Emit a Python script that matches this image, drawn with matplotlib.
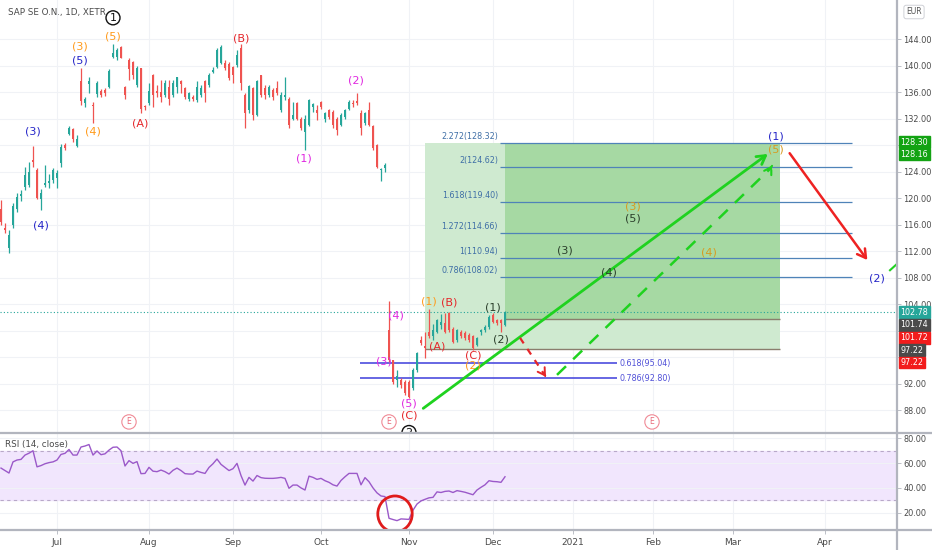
import matplotlib
matplotlib.use('Agg')
import matplotlib.pyplot as plt
from matplotlib.patches import Rectangle, Ellipse
from matplotlib.lines import Line2D
import numpy as np

# SAP SE daily candles, bar index 0 = first session of July 2020
first_bar = -14
opens = [118.4, 115.5, 112.4, 115.9, 118.4, 120.3, 121.7, 122.0, 125.8, 124.2,
         119.8, 122.0, 122.3, 122.7, 123.0, 125.3, 128.0, 129.6, 130.4, 127.8,
         137.6, 134.4, 137.2, 134.1, 135.7, 136.2, 136.3, 136.8, 141.3, 141.3,
         142.8, 136.7, 140.9, 140.6, 137.1, 139.6, 133.9, 134.4, 138.5, 136.2,
         136.0, 135.5, 136.8, 135.5, 136.8, 137.6, 136.6, 135.0, 135.3, 134.8,
         135.5, 137.6, 137.1, 139.0, 139.8, 140.4, 140.4, 140.3, 139.8, 140.1,
         142.6, 135.5, 133.3, 136.6, 132.5, 138.5, 136.6, 135.5, 136.3, 136.6,
         133.3, 135.3, 135.0, 132.0, 134.3, 132.0, 129.9, 131.0, 133.7, 133.3,
         134.5, 131.9, 133.3, 133.0, 132.0, 131.0, 132.2, 133.5, 134.4, 134.6,
         132.8, 131.3, 133.3, 130.8, 128.0, 124.2, 124.5, 100.1, 95.5, 92.6,
         92.5, 92.3, 92.3, 91.3, 94.0, 98.6, 97.6, 99.8, 99.1, 99.8,
         100.8, 101.1, 102.6, 100.3, 98.6, 99.8, 99.7, 99.3, 99.1, 97.8,
         99.8, 100.1, 100.6, 102.3, 101.6, 101.6, 100.8]
highs = [119.7, 116.2, 115.2, 119.2, 120.7, 121.2, 124.7, 125.5, 127.8, 124.5,
         121.3, 125.0, 123.7, 124.5, 124.2, 128.2, 128.3, 130.8, 130.5, 129.5,
         139.7, 135.3, 138.2, 134.5, 137.6, 136.4, 136.6, 139.4, 143.2, 142.6,
         142.9, 136.9, 141.1, 140.7, 140.0, 139.7, 134.0, 137.3, 138.7, 137.0,
         137.8, 137.8, 137.8, 137.8, 138.3, 137.8, 136.8, 136.0, 135.6, 137.6,
         137.0, 137.8, 138.8, 139.8, 142.6, 143.1, 140.8, 140.6, 139.9, 142.3,
         143.3, 135.8, 137.1, 136.8, 137.8, 138.6, 137.0, 137.1, 136.6, 137.6,
         136.0, 138.2, 135.3, 134.5, 134.5, 132.3, 132.5, 135.0, 134.4, 134.0,
         134.7, 133.0, 133.5, 133.3, 132.3, 132.8, 133.4, 134.8, 134.8, 135.8,
         133.3, 133.0, 134.5, 131.0, 128.2, 124.5, 125.3, 104.5, 95.6, 94.0,
         92.8, 92.6, 92.5, 94.3, 96.8, 99.1, 99.8, 103.3, 101.0, 101.8,
         102.5, 102.6, 102.8, 100.6, 100.3, 100.1, 100.0, 99.6, 99.3, 99.0,
         100.3, 100.8, 102.3, 102.6, 101.8, 101.8, 102.9]
lows = [116.0, 114.7, 111.65, 115.4, 117.9, 119.5, 121.2, 121.7, 124.7, 119.8,
        118.2, 121.7, 121.5, 122.2, 121.5, 124.7, 127.3, 129.5, 128.5, 127.7,
        134.0, 133.7, 135.8, 131.3, 135.3, 135.3, 135.4, 136.6, 141.2, 140.9,
        141.1, 134.9, 137.8, 137.9, 136.8, 132.8, 133.3, 134.0, 133.8, 135.3,
        134.5, 135.3, 134.0, 135.3, 135.8, 135.8, 135.0, 134.7, 134.6, 134.5,
        135.3, 134.5, 136.8, 138.8, 139.6, 140.3, 139.3, 137.8, 137.3, 139.8,
        136.3, 130.5, 132.8, 131.8, 132.4, 135.3, 135.0, 135.3, 134.8, 135.5,
        133.0, 134.8, 130.5, 131.8, 131.8, 130.3, 127.2, 130.8, 133.0, 131.8,
        133.5, 131.5, 132.0, 130.5, 129.5, 130.8, 132.0, 133.3, 133.8, 134.0,
        129.5, 131.0, 130.8, 127.2, 124.6, 122.5, 124.0, 95.3, 92.0, 91.5,
        91.3, 90.3, 89.8, 91.0, 93.8, 97.8, 95.8, 98.8, 98.6, 99.6,
        100.3, 99.6, 99.8, 98.1, 98.3, 98.8, 98.5, 98.3, 97.1, 97.6,
        99.3, 99.8, 100.3, 101.1, 100.8, 99.8, 100.7]
closes = [116.4, 115.2, 114.4, 118.8, 120.2, 120.6, 123.5, 124.0, 125.5, 120.0,
          120.8, 122.2, 122.5, 124.2, 123.8, 127.75, 127.5, 130.6, 128.9, 128.9,
          134.7, 135.0, 137.6, 133.9, 137.3, 135.5, 135.8, 139.2, 141.9, 142.3,
          141.2, 135.5, 139.4, 138.6, 139.7, 133.5, 133.7, 136.2, 135.5, 135.8,
          135.3, 137.3, 135.0, 137.3, 138.2, 137.2, 135.3, 135.8, 135.0, 136.8,
          136.6, 135.8, 138.6, 139.3, 142.3, 142.8, 139.7, 138.1, 138.6, 141.6,
          137.3, 132.8, 136.9, 132.5, 137.6, 135.5, 135.5, 136.8, 135.3, 135.8,
          135.5, 135.5, 131.0, 132.5, 132.0, 130.5, 132.0, 134.8, 134.2, 132.9,
          133.7, 132.8, 132.3, 131.0, 130.3, 132.5, 133.3, 134.5, 134.2, 134.3,
          130.5, 132.9, 131.0, 127.5, 124.7, 124.4, 125.0, 95.5, 92.3, 93.1,
          91.8, 90.5, 90.0, 94.0, 96.6, 98.1, 97.3, 99.1, 100.1, 101.6,
          101.3, 99.8, 100.1, 98.3, 100.1, 99.1, 98.8, 98.6, 97.3, 98.8,
          100.1, 100.6, 102.1, 101.3, 101.1, 101.2, 102.78]
rsi = [56, 54, 52, 61, 62.5, 63, 66.5, 68, 70, 57, 58, 59.5, 60.4, 61,
       62.5, 67, 67.9, 71, 66.5, 66.5, 73, 73.8, 75, 66.5,
       69.8, 66.8, 67.5, 70.5, 72.8, 73, 70, 57.7, 62, 59.8,
       61.2, 51.5, 51.7, 56.6, 53.5, 53.1, 54.4, 53.1, 51.2, 54.2,
       56, 54, 51.5, 51.2, 51.2, 53.6, 52.5, 51.7, 56.5, 59.5,
       63.3, 59, 56.5, 54, 55.5, 59.8, 50, 42.3, 48.5, 45.5,
       50, 48.3, 47.8, 47.7, 47.7, 48, 48.5, 47.7, 39.7, 42.3,
       42.3, 40, 38.3, 49.5, 48.5, 46.9, 47.7, 45.8, 44.5, 42.5,
       41.5, 46, 49, 51.7, 51.7, 51.7, 42.5, 48.3, 45, 40,
       36, 33.5, 33, 15.5, 14.5, 13.6, 15, 14.8, 14.6, 22,
       27, 29.5, 30.8, 32, 32.4, 36.8, 36.3, 37.2, 37.5, 36.3,
       37.8, 37.2, 36.5, 35.5, 34.5, 38.3, 40.5, 42.5, 45.8, 45.2,
       45, 44.5, 49]

month_bars = [0, 23, 44, 66, 88, 109, 129, 149, 169, 192]
month_labels = ['Jul', 'Aug', 'Sep', 'Oct', 'Nov', 'Dec', '2021', 'Feb', 'Mar', 'Apr']
price_ticks = list(range(88, 145, 4))
hidden_ticks = [128, 100, 96]   # covered by the price tags

# fibonacci extension / retracement levels
ext_ratios = ['2.272', '2', '1.618', '1.272', '1', '0.786']
ext_levels = [128.32, 124.62, 119.40, 114.66, 110.94, 108.02]
ret_ratios = ['0.618', '0.786']
ret_levels = [95.04, 92.80]

# target box (long position): entry, stop, target
box_target = 128.32
box_entry = 101.74
box_stop = 97.22

# elliott wave labels: text, bar, price, colour
BLUE, ORANGE, RED, MAG, DKG, GOLD = '#2525c8', '#ff9a1a', '#e5262a', '#e028e0', '#2b3f2b', '#d79b21'
waves = [
    ('(5)', 14, 144.45, ORANGE), ('(3)', 5.75, 142.8, ORANGE), ('(5)', 5.75, 140.7, BLUE),
    ('(3)', -6, 130.0, BLUE), ('(4)', -4, 115.9, BLUE), ('(4)', 9, 130.1, ORANGE),
    ('(A)', 20.75, 131.3, RED), ('(B)', 46, 144.15, RED), ('(2)', 74.75, 137.7, MAG),
    ('(1)', 61.75, 125.9, MAG), ('(4)', 84.75, 102.3, MAG), ('(3)', 81.75, 95.25, MAG),
    ('(5)', 88, 89.0, MAG), ('(C)', 88, 87.2, RED), ('(1)', 93, 104.45, ORANGE),
    ('(B)', 98, 104.3, RED), ('(A)', 95, 97.65, RED), ('(C)', 104, 96.3, RED),
    ('(2)', 104, 94.65, ORANGE), ('(1)', 109, 103.4, DKG), ('(2)', 111, 98.7, DKG),
    ('(3)', 127, 112.15, DKG), ('(4)', 138, 108.8, DKG), ('(3)', 144, 118.7, GOLD),
    ('(5)', 144, 116.9, DKG), ('(4)', 163, 111.85, GOLD), ('(1)', 179.75, 129.35, BLUE),
    ('(5)', 179.75, 127.25, GOLD), ('(2)', 205, 107.9, BLUE),
]
circled = [('1', 14, 147.2), ('2', 88, 84.6)]
earnings_bars = [18, 83, 148.75]

# price tags on the scale: value, text, colour, vertical shift (pt)
tags = [(128.30, '128.30', '#13a313', 0.5), (128.16, '128.16', '#13a313', -7.6),
        (102.78, '102.78', '#26a69a', 0), (101.74, '101.74', '#4a4a4a', -4.2),
        (101.72, '101.72', '#f21c1c', -13.5), (97.22, '97.22', '#4a4a4a', -1.0),
        (97.22, '97.22', '#f21c1c', -9.8)]

UP, DOWN = '#26a69a', '#ef5350'
GRID = '#f0f2f6'
AXC = '#b2b5be'
TXT = '#4a4a4a'

plt.rcParams['font.family'] = ['DejaVu Sans']

fig = plt.figure(figsize=(9.32, 5.5), dpi=100)
W, H = 932, 550
ax = fig.add_axes([0, 117 / H, 897 / W, 433 / H])
rax = fig.add_axes([0, 20 / H, 897 / W, 97 / H], sharex=ax)

bars = np.arange(first_bar, first_bar + len(closes))
o, h, l, c = map(np.array, (opens, highs, lows, closes))
col = np.where(c >= o, UP, DOWN)

# grid
for a in (ax, rax):
    for mb in month_bars:
        a.axvline(mb, color=GRID, lw=0.8, zorder=0)
for p in price_ticks:
    ax.axhline(p, color=GRID, lw=0.8, zorder=0)

# target box and levels
ax.add_patch(Rectangle((92, box_stop), 180.75 - 92, box_target - box_stop,
                       fc='#cfead0', ec='none', zorder=1))
ax.add_patch(Rectangle((112, box_entry), 180.75 - 112, box_target - box_entry,
                       fc='#a6d9a3', ec='none', zorder=1))
ax.hlines(box_entry, 112, 180.75, color='#8a7d6d', lw=1.0, zorder=2)
ax.hlines(box_stop, 92, 180.75, color='#8a7d6d', lw=1.0, zorder=2)

for r, lev in zip(ext_ratios, ext_levels):
    ax.hlines(lev, 110.75, 198.75, color='#4f83b8', lw=0.9, zorder=2)
    ax.text(110.25, lev + 0.35, f'{r}({lev:.2f})', ha='right', va='bottom',
            fontsize=5.8, color='#3f6fa6', zorder=4)
for r, lev in zip(ret_ratios, ret_levels):
    ax.hlines(lev, 75.75, 140, color='#5a5ae0', lw=1.3, zorder=2)
    ax.text(140.5, lev, f'{r}({lev:.2f})', ha='left', va='center',
            fontsize=5.8, color='#5050d8', zorder=4)

# last price line
ax.axhline(closes[-1], color=UP, lw=0.8, ls=(0, (1, 2)), zorder=1)

# candles
ax.vlines(bars, l, h, color=col, lw=0.9, zorder=3)
body = np.maximum(np.abs(c - o), 0.15)
ax.bar(bars, body, bottom=np.minimum(o, c), width=0.74, color=col, zorder=3)

# drawn arrows
ax.annotate('', xy=(178.25, 126.9), xytext=(91, 88.0),
            arrowprops=dict(arrowstyle='->,head_length=0.6,head_width=0.35',
                            color='#1fd21f', lw=2), zorder=5)
ax.plot([125, 178.6], [93.3, 124.6], color='#1fd21f', lw=1.8, ls=(0, (5, 4)), zorder=5)
ax.annotate('', xy=(179.2, 125.3), xytext=(178.4, 124.5),
            arrowprops=dict(arrowstyle='->,head_length=0.5,head_width=0.3',
                            color='#1fd21f', lw=1.5, ls='--'), zorder=5)
ax.plot([115.75, 122.0], [98.9, 93.2], color='#e5262a', lw=1.6, ls=(0, (3, 3)), zorder=5)
ax.annotate('', xy=(122.25, 93.0), xytext=(121.6, 93.6),
            arrowprops=dict(arrowstyle='->,head_length=0.5,head_width=0.3',
                            color='#e5262a', lw=1.4), zorder=5)
ax.annotate('', xy=(203, 110.3), xytext=(182.75, 127.1),
            arrowprops=dict(arrowstyle='->,head_length=0.6,head_width=0.35',
                            color='#ee2222', lw=1.8), zorder=5)
ax.plot([208.25, 211], [109.1, 110.6], color='#1fd21f', lw=1.5, zorder=5)

# wave labels
for t, x, y, cl in waves:
    ax.text(x, y, t, ha='center', va='center', fontsize=8, color=cl, zorder=6)
for t, x, y in circled:
    ax.text(x, y, t, ha='center', va='center', fontsize=8, color='#111111', zorder=6,
            clip_on=True,
            bbox=dict(boxstyle='circle,pad=0.18', fc='none', ec='#111111', lw=1))
for x in earnings_bars:
    ax.text(x, 86.2, 'E', ha='center', va='center', fontsize=5.5, color='#e86a7a',
            zorder=6, bbox=dict(boxstyle='circle,pad=0.35', fc='white', ec='#f08a96', lw=0.8))

ax.text(0.009, 0.972, 'SAP SE O.N., 1D, XETR', transform=ax.transAxes,
        fontsize=6.3, color=TXT, va='center', ha='left')

ax.set_xlim(-14.25, 210)
ax.set_ylim(84.53, 149.89)
ax.yaxis.tick_right()
ax.set_yticks(price_ticks)
ax.set_yticklabels(['' if p in hidden_ticks else f'{p:.2f}' for p in price_ticks])
ax.tick_params(axis='y', labelsize=5.9, colors=TXT, length=3, width=0.6, color=AXC, pad=1.5)
ax.tick_params(axis='x', bottom=False, labelbottom=False)
for s in ax.spines.values():
    s.set_visible(False)

for v, t, cl, dy in tags:
    ax.annotate(t, xy=(1, v), xycoords=('axes fraction', 'data'), xytext=(2.5, dy),
                textcoords='offset points', ha='left', va='center', fontsize=5.8,
                color='white', annotation_clip=False, zorder=10,
                bbox=dict(boxstyle='square,pad=0.18', fc=cl, ec=cl))

# RSI pane
rax.axhspan(30, 70, color='#f1e6fd', zorder=0)
rax.axhline(70, color='#b8a8c8', lw=0.8, ls=(0, (3, 3)), zorder=1)
rax.axhline(30, color='#b8a8c8', lw=0.8, ls=(0, (3, 3)), zorder=1)
for p in (20, 40, 60, 80):
    rax.axhline(p, color=GRID, lw=0.8, zorder=0)
rax.plot(bars, rsi, color='#9b59c9', lw=1.0, zorder=3)
rax.add_patch(Ellipse((84.5, 19), 8.6, 29, fc='none', ec='#e01b1b', lw=2, zorder=4))
rax.text(0.006, 0.88, 'RSI (14, close)', transform=rax.transAxes, fontsize=6.3,
         color=TXT, va='center', ha='left')
rax.set_ylim(6.05, 84.3)
rax.yaxis.tick_right()
rax.set_yticks([20, 40, 60, 80])
rax.set_yticklabels(['20.00', '40.00', '60.00', '80.00'])
rax.tick_params(axis='y', labelsize=5.9, colors=TXT, length=3, width=0.6, color=AXC, pad=1.5)
rax.set_xticks(month_bars)
rax.set_xticklabels(month_labels)
rax.tick_params(axis='x', labelsize=6.5, colors=TXT, length=3, width=0.6, color=AXC, pad=3)
for s in rax.spines.values():
    s.set_visible(False)

# pane separators and scale border
fig.add_artist(Line2D([0, 1], [1 - 433 / H, 1 - 433 / H], color=AXC, lw=1.6))
fig.add_artist(Line2D([0, 1], [20 / H, 20 / H], color=AXC, lw=1.6))
fig.add_artist(Line2D([897 / W, 897 / W], [0, 1], color=AXC, lw=1.6))
fig.text(914 / W, 1 - 12 / H, 'EUR', fontsize=5.5, color='#555555', ha='center', va='center',
         bbox=dict(boxstyle='round,pad=0.3', fc='white', ec='#c8cad0', lw=0.6))

fig.savefig('out.png', dpi=100)
